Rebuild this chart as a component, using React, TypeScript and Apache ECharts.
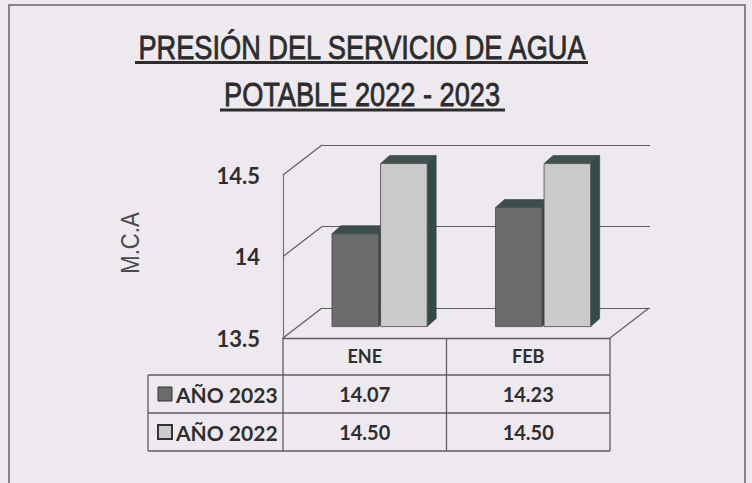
import React, { useEffect, useRef } from "react";
import * as echarts from "echarts";

// ---- data ----
const categories = ["ENE", "FEB"];
const seriesNames = ["AÑO 2023", "AÑO 2022"];
const values2023 = [14.07, 14.23];
const values2022 = [14.5, 14.5];
const yMin = 13.5;
const yMax = 14.5;
const yInterval = 0.5;
const yTicks = [13.5, 14, 14.5];
const titleLines = ["PRESIÓN DEL SERVICIO DE AGUA", "POTABLE 2022 - 2023"];
const yAxisName = "M.C.A";

// ---- styling ----
const BG = "#ede9ef";
const TEXT = "#2e2e2e";
const LINE = "#5e5e5e";
const FRONT_COLORS = ["#6c6c6c", "#cbcbcb"];
const CAP_COLORS = ["#3c4d4d", "#3f5151"];
const SIDE_COLORS = ["#334646", "#364a4a"];
const DEPTH = { dx: 39, dy: -30 };
const BAR_DEPTH_FRAC = 0.38;
const CAP = { dx: 9, dy: -8 };
const FONT = "Lato";

function barRender(si: number) {
  return (params: any, api: any) => {
    const idx = api.value(0);
    const v = api.value(1);
    const bandW = api.size([1, 0])[0];
    const pTop = api.coord([idx, v]);
    const pBase = api.coord([idx, yMin]);
    const sx = DEPTH.dx * BAR_DEPTH_FRAC;
    const sy = DEPTH.dy * BAR_DEPTH_FRAC;
    const barW = bandW * 0.285;
    const gap = 2;
    const x0 = si === 0 ? pTop[0] + sx - gap / 2 - barW : pTop[0] + sx + gap / 2;
    const x1 = x0 + barW;
    const yT = pTop[1] + sy;
    const yB = pBase[1] + sy;
    return {
      type: "group",
      children: [
        {
          type: "polygon",
          shape: { points: [[x1, yT], [x1 + CAP.dx, yT + CAP.dy], [x1 + CAP.dx, yB + CAP.dy], [x1, yB]] },
          style: { fill: SIDE_COLORS[si], stroke: "#2c3a3a", lineWidth: 0.6 },
        },
        {
          type: "polygon",
          shape: { points: [[x0, yT], [x1, yT], [x1 + CAP.dx, yT + CAP.dy], [x0 + CAP.dx, yT + CAP.dy]] },
          style: { fill: CAP_COLORS[si], stroke: "#2c3a3a", lineWidth: 0.6 },
        },
        {
          type: "rect",
          shape: { x: x0, y: yT, width: barW, height: yB - yT },
          style: { fill: FRONT_COLORS[si], stroke: "#4a4a4a", lineWidth: 0.8 },
        },
      ],
    };
  };
}

function frameRender(params: any, api: any) {
  const t = api.value(1);
  const bandW = api.size([1, 0])[0];
  const p = api.coord([0, t]);
  const left = p[0] - bandW / 2;
  const children: any[] = [
    {
      type: "line",
      shape: { x1: left, y1: p[1], x2: left + DEPTH.dx, y2: p[1] + DEPTH.dy },
      style: { stroke: LINE, lineWidth: 1.2 },
    },
  ];
  if (t === yMin) {
    const right = api.coord([categories.length - 1, t])[0] + bandW / 2;
    children.push({
      type: "line",
      shape: { x1: right, y1: p[1], x2: right + DEPTH.dx, y2: p[1] + DEPTH.dy },
      style: { stroke: LINE, lineWidth: 1.2 },
    });
  }
  return { type: "group", children };
}

export default function App() {
  const ref = useRef<HTMLDivElement>(null);
  useEffect(() => {
    if (!ref.current) return;
    const chart = echarts.init(ref.current, null, { renderer: "svg" });

    // table layout
    const tL = 148, tC0 = 283, tC1 = 446.5, tC2 = 610;
    const tTop = 338, r1 = 375, r2 = 413, r3 = 451;
    const colCenters = [(tC0 + tC1) / 2, (tC1 + tC2) / 2];
    const rowCenters = [(r1 + r2) / 2, (r2 + r3) / 2];
    const allValues = [values2023, values2022];

    const graphics: any[] = [
      {
        type: "rect",
        shape: { x: 9, y: 5, width: 736, height: 500 },
        style: { fill: "none", stroke: "#666", lineWidth: 1.5 },
      },
    ];
    // title
    const titleY = [47, 94];
    const ulines = [
      [135, 588, 62.5],
      [220, 505, 110],
    ];
    titleLines.forEach((t, i) => {
      graphics.push({
        type: "text",
        x: 362,
        y: titleY[i],
        scaleX: 0.8,
        style: {
          text: t,
          fill: "#2c2c2c",
          stroke: "#2c2c2c",
          lineWidth: 0.8,
          font: '34px "Liberation Sans"',
          align: "center",
          verticalAlign: "middle",
        },
      });
      graphics.push({
        type: "line",
        shape: { x1: ulines[i][0], y1: ulines[i][2], x2: ulines[i][1], y2: ulines[i][2] },
        style: { stroke: "#2c2c2c", lineWidth: 2.8 },
      });
    });
    // y axis name
    graphics.push({
      type: "text",
      x: 130,
      y: 243,
      rotation: Math.PI / 2,
      scaleX: 0.85,
      style: {
        text: yAxisName,
        fill: "#4a4a4a",
        font: '26px "Liberation Sans"',
        align: "center",
        verticalAlign: "middle",
      },
    });
    // table lines
    const hl = (y: number, x1: number, x2: number) => ({
      type: "line",
      shape: { x1, y1: y, x2, y2: y },
      style: { stroke: LINE, lineWidth: 1.3 },
    });
    const vl = (x: number, y1: number, y2: number) => ({
      type: "line",
      shape: { x1: x, y1, x2: x, y2 },
      style: { stroke: LINE, lineWidth: 1.3 },
    });
    graphics.push(hl(r1, tL, tC2), hl(r2, tL, tC2), hl(r3, tL, tC2));
    graphics.push(vl(tL, r1, r3), vl(tC0, tTop, r3), vl(tC1, tTop, r3), vl(tC2, tTop, r3));
    // legend cells and values
    seriesNames.forEach((name, si) => {
      graphics.push({
        type: "rect",
        shape: { x: 158, y: rowCenters[si] - 7, width: 14, height: 14 },
        style: { fill: FRONT_COLORS[si], stroke: "#333", lineWidth: si === 1 ? 2 : 1 },
      });
      graphics.push({
        type: "text",
        x: 176,
        y: rowCenters[si],
        style: {
          text: name,
          fill: TEXT,
          font: `bold 21px "${FONT}"`,
          align: "left",
          verticalAlign: "middle",
        },
      });
      allValues[si].forEach((v, ci) => {
        graphics.push({
          type: "text",
          x: colCenters[ci],
          y: rowCenters[si],
          style: {
            text: v.toFixed(2),
            fill: TEXT,
            font: `bold 20px "${FONT}"`,
            align: "center",
            verticalAlign: "middle",
          },
        });
      });
    });

    chart.setOption({
      animation: false,
      backgroundColor: BG,
      grid: [
        { left: 283, top: 175, width: 327, height: 163 },
        { left: 322, top: 145, width: 328, height: 163 },
      ],
      xAxis: [
        {
          type: "category",
          gridIndex: 0,
          data: categories,
          axisLine: { show: true, lineStyle: { color: LINE, width: 1.3 } },
          axisTick: { show: false },
          axisLabel: {
            margin: 9,
            color: TEXT,
            fontFamily: FONT,
            fontWeight: "bold",
            fontSize: 18,
          },
        },
        {
          type: "category",
          gridIndex: 1,
          data: categories,
          show: false,
        },
      ],
      yAxis: [
        {
          type: "value",
          gridIndex: 0,
          min: yMin,
          max: yMax,
          interval: yInterval,
          axisLine: { show: true, lineStyle: { color: "#777", width: 1.2 } },
          axisTick: { show: false },
          splitLine: { show: false },
          axisLabel: {
            margin: 23,
            color: TEXT,
            fontFamily: FONT,
            fontWeight: "bold",
            fontSize: 22,
          },
        },
        {
          type: "value",
          gridIndex: 1,
          min: yMin,
          max: yMax,
          interval: yInterval,
          axisLine: { show: false },
          axisTick: { show: false },
          axisLabel: { show: false },
          splitLine: { show: true, lineStyle: { color: LINE, width: 1.2 } },
        },
      ],
      series: [
        {
          type: "custom",
          name: "frame",
          xAxisIndex: 0,
          yAxisIndex: 0,
          silent: true,
          renderItem: frameRender,
          data: yTicks.map((t) => [0, t]),
          z: 1,
        },
        {
          type: "custom",
          name: seriesNames[0],
          xAxisIndex: 0,
          yAxisIndex: 0,
          renderItem: barRender(0),
          data: values2023.map((v, i) => [i, v]),
          z: 3,
        },
        {
          type: "custom",
          name: seriesNames[1],
          xAxisIndex: 0,
          yAxisIndex: 0,
          renderItem: barRender(1),
          data: values2022.map((v, i) => [i, v]),
          z: 4,
        },
      ],
      graphic: graphics,
    });
    return () => chart.dispose();
  }, []);
  return (
    <div
      ref={ref}
      style={{ position: "absolute", left: 0, top: 0, width: 752, height: 483 }}
    />
  );
}
